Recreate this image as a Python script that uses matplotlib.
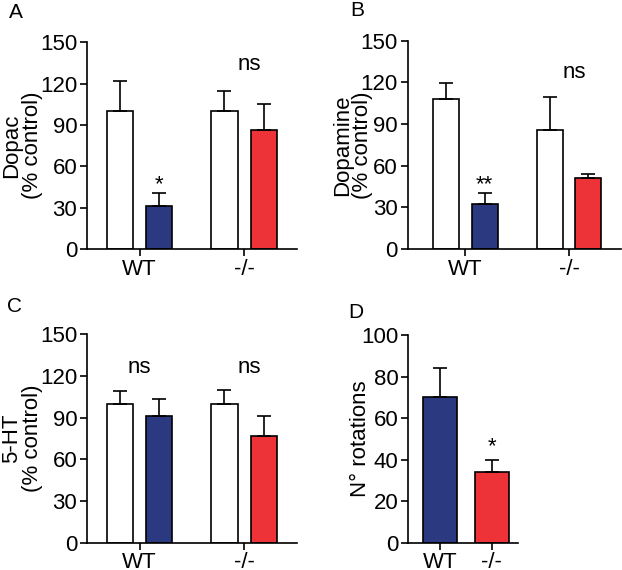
import numpy as np
import matplotlib
matplotlib.use('Agg')
import matplotlib.pyplot as plt

plt.rcParams['font.family'] = ['Liberation Sans', 'DejaVu Sans']
plt.rcParams['font.size'] = 16

# data
groups = ['WT', '-/-']

dopac_ctrl = [100, 100]
dopac_ctrl_err = [22, 14.5]
dopac_trt = [31.5, 86]
dopac_trt_err = [9.5, 19.5]

dopa_ctrl = [108, 86]
dopa_ctrl_err = [11.5, 23.5]
dopa_trt = [32.5, 51.3]
dopa_trt_err = [8, 3]

ht_ctrl = [100, 100]
ht_ctrl_err = [9, 9.7]
ht_trt = [91.5, 76.5]
ht_trt_err = [11.7, 15]

rot = [70, 34]
rot_err = [14, 6]

blue = '#2b3a80'
red = '#ee3338'
trt_colors = [blue, red]


def style(ax, ymax, step):
    for s in ['top', 'right']:
        ax.spines[s].set_visible(False)
    for s in ['left', 'bottom']:
        ax.spines[s].set_linewidth(1.2)
    ax.set_ylim(0, ymax)
    ax.set_yticks(np.arange(0, ymax + 1, step))
    ax.tick_params(axis='both', width=1.2, length=5, labelsize=16, pad=2)


def grouped(ax, ctrl, ctrl_err, trt, trt_err, ylabel, marks, xlim, labx):
    x = np.arange(len(groups))
    off = 0.187
    w = 0.25
    ekw = dict(elinewidth=1.2, capthick=1.2)
    ax.bar(x - off, ctrl, w, color='white', edgecolor='black', linewidth=1.2,
           yerr=[np.zeros(2), ctrl_err], capsize=5, error_kw=ekw, zorder=2)
    ax.bar(x + off, trt, w, color=trt_colors, edgecolor='black', linewidth=1.2,
           yerr=[np.zeros(2), trt_err], capsize=5, error_kw=ekw, zorder=2)
    style(ax, 150, 30)
    ax.set_xlim(*xlim)
    ax.set_xticks(x)
    ax.set_xticklabels(groups)
    ax.set_ylabel(ylabel, linespacing=0.95)
    ax.yaxis.set_label_coords(labx, 0.5)
    for m in marks:
        ax.text(m[0], m[1], m[2], ha='center', va='center', fontsize=16)


fig = plt.figure(figsize=(6.22, 5.7), dpi=100)

axA = fig.add_axes([0.140, 0.563, 0.3375, 0.363])
grouped(axA, dopac_ctrl, dopac_ctrl_err, dopac_trt, dopac_trt_err,
        'Dopac\n(% control)',
        [(1.05, 134, 'ns'), (0.187, 47, '*')], (-0.502, 1.507), -0.212)

axB = fig.add_axes([0.6555, 0.563, 0.3425, 0.3656])
grouped(axB, dopa_ctrl, dopa_ctrl_err, dopa_trt, dopa_trt_err,
        'Dopamine\n(% control)',
        [(1.05, 127, 'ns'), (0.187, 46, '**')], (-0.556, 1.5), -0.163)

axC = fig.add_axes([0.140, 0.048, 0.3375, 0.3655])
grouped(axC, ht_ctrl, ht_ctrl_err, ht_trt, ht_trt_err,
        '5-HT\n(% control)',
        [(0.0, 126, 'ns'), (1.05, 126, 'ns')], (-0.502, 1.507), -0.212)

axD = fig.add_axes([0.656, 0.048, 0.177, 0.3643])
xd = np.arange(len(groups))
axD.bar(xd, rot, 0.66, color=trt_colors, edgecolor='black', linewidth=1.2,
        yerr=[np.zeros(2), rot_err], capsize=5,
        error_kw=dict(elinewidth=1.2, capthick=1.2), zorder=2)
style(axD, 100, 20)
axD.set_xlim(-0.62, 1.51)
axD.set_xticks(xd)
axD.set_xticklabels(groups)
axD.set_ylabel('N° rotations')
axD.yaxis.set_label_coords(-0.336, 0.5)
axD.text(1, 46, '*', ha='center', va='center', fontsize=16)

for lab, px, py in [('A', 16, 12), ('B', 357, 10), ('C', 15, 307), ('D', 356, 313)]:
    fig.text(px / 622, 1 - py / 570, lab, ha='center', va='center', fontsize=15)

fig.savefig('out.png', dpi=100)
